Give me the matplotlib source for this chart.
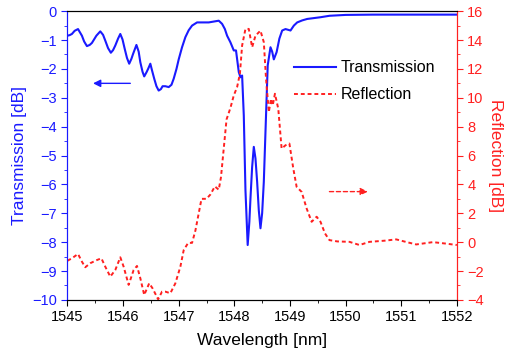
import numpy as np
import matplotlib.pyplot as plt
from matplotlib.ticker import MultipleLocator

plt.rcParams['font.family'] = ['Liberation Sans', 'DejaVu Sans']

# Transmission (left axis)
wl_t = [1545.00, 1545.04, 1545.08, 1545.13, 1545.19, 1545.26, 1545.30, 1545.35, 1545.40,
        1545.44, 1545.52, 1545.59, 1545.64, 1545.68, 1545.73, 1545.78, 1545.82, 1545.86,
        1545.91, 1545.95, 1545.99, 1546.03, 1546.07, 1546.11, 1546.15, 1546.18, 1546.24,
        1546.28, 1546.31, 1546.35, 1546.38, 1546.42, 1546.45, 1546.49, 1546.52, 1546.56,
        1546.60, 1546.64, 1546.68, 1546.71, 1546.76, 1546.82, 1546.87, 1546.91, 1546.96,
        1547.00, 1547.06, 1547.12, 1547.18, 1547.24, 1547.33, 1547.44, 1547.54, 1547.63,
        1547.72, 1547.78, 1547.83, 1547.87, 1547.93, 1547.99, 1548.03, 1548.08, 1548.11,
        1548.14, 1548.17, 1548.20, 1548.24, 1548.27, 1548.29, 1548.32, 1548.35, 1548.38,
        1548.41, 1548.44, 1548.47, 1548.50, 1548.53, 1548.57, 1548.60, 1548.65, 1548.68,
        1548.71, 1548.76, 1548.81, 1548.86, 1548.92, 1549.01, 1549.07, 1549.13, 1549.22,
        1549.31, 1549.55, 1549.71, 1550.00, 1550.50, 1551.00, 1551.50, 1552.00]
trans = [-0.85, -0.83, -0.79, -0.68, -0.62, -0.85, -1.05, -1.21, -1.17,
         -1.10, -0.85, -0.70, -0.82, -1.02, -1.28, -1.44, -1.35, -1.19,
         -0.95, -0.79, -0.98, -1.31, -1.62, -1.82, -1.65, -1.48, -1.17,
         -1.40, -1.77, -2.10, -2.26, -2.12, -2.00, -1.82, -2.05, -2.34,
         -2.60, -2.75, -2.70, -2.60, -2.60, -2.63, -2.55, -2.34, -2.00,
         -1.67, -1.25, -0.90, -0.66, -0.50, -0.39, -0.39, -0.39, -0.36,
         -0.33, -0.44, -0.62, -0.85, -1.08, -1.36, -1.36, -2.11, -2.29,
         -2.23, -3.61, -6.20, -8.10, -7.30, -6.49, -5.40, -4.70, -5.10,
         -5.91, -6.90, -7.52, -7.00, -5.91, -3.60, -1.88, -1.25, -1.40,
         -1.67, -1.42, -0.95, -0.67, -0.62, -0.67, -0.50, -0.39, -0.32,
         -0.27, -0.21, -0.16, -0.13, -0.12, -0.12, -0.12, -0.12]

# Reflection (right axis)
wl_r = [1545.00, 1545.08, 1545.19, 1545.26, 1545.32, 1545.41, 1545.53, 1545.61, 1545.68,
        1545.77, 1545.86, 1545.95, 1546.01, 1546.10, 1546.19, 1546.25, 1546.31, 1546.38,
        1546.47, 1546.53, 1546.63, 1546.70, 1546.76, 1546.85, 1546.94, 1547.03, 1547.09,
        1547.17, 1547.24, 1547.30, 1547.36, 1547.41, 1547.50, 1547.57, 1547.65, 1547.72,
        1547.76, 1547.80, 1547.86, 1547.93, 1547.99, 1548.05, 1548.10, 1548.14, 1548.20,
        1548.26, 1548.32, 1548.38, 1548.47, 1548.53, 1548.57, 1548.62, 1548.66, 1548.69,
        1548.73, 1548.79, 1548.85, 1548.92, 1548.99, 1549.06, 1549.12, 1549.21, 1549.30,
        1549.39, 1549.48, 1549.55, 1549.63, 1549.71, 1549.85, 1550.07, 1550.25, 1550.43,
        1550.70, 1550.91, 1551.10, 1551.27, 1551.57, 1551.80, 1552.00]
refl = [-1.29, -1.12, -0.82, -1.35, -1.74, -1.46, -1.24, -1.12, -1.70,
        -2.39, -1.93, -1.05, -1.70, -2.96, -1.93, -1.65, -2.50, -3.66,
        -2.85, -3.20, -3.96, -3.43, -3.43, -3.54, -2.85, -1.70, -0.55,
        -0.05, -0.05, 0.80, 2.00, 3.00, 3.00, 3.30, 3.86, 3.63,
        4.50, 6.10, 8.50, 9.30, 10.16, 10.74, 11.66, 13.62, 14.77,
        14.77, 13.50, 14.30, 14.65, 13.85, 11.32, 9.01, 9.93, 9.47,
        10.28, 9.24, 6.48, 6.71, 6.83, 5.10, 3.83, 3.48, 2.33,
        1.41, 1.76, 1.40, 0.60, 0.14, 0.05, 0.02, -0.20, 0.02,
        0.10, 0.19, 0.00, -0.16, 0.00, -0.10, -0.20]

blue = '#1a1aff'
red = '#ff2020'

fig, ax = plt.subplots(figsize=(5.11, 3.6), dpi=100)
fig.subplots_adjust(left=0.132, right=0.894, bottom=0.167, top=0.969)
ax2 = ax.twinx()

l1, = ax.plot(wl_t, trans, color=blue, lw=1.5, label='Transmission')
l2, = ax2.plot(wl_r, refl, color=red, lw=1.4, linestyle=(0, (2, 1.5)), label='Reflection')

ax.set_xlim(1545, 1552)
ax.set_ylim(-10, 0)
ax2.set_ylim(-4, 16)

ax.xaxis.set_major_locator(MultipleLocator(1))
ax.xaxis.set_minor_locator(MultipleLocator(0.5))
ax.yaxis.set_major_locator(MultipleLocator(1))
ax.yaxis.set_minor_locator(MultipleLocator(0.5))
ax2.yaxis.set_major_locator(MultipleLocator(2))
ax2.yaxis.set_minor_locator(MultipleLocator(1))

ax.tick_params(axis='x', which='both', direction='out', labelsize=10.5, colors='black')
ax.tick_params(axis='x', which='major', length=4)
ax.tick_params(axis='x', which='minor', length=2.5)
ax.tick_params(axis='y', which='both', direction='out', labelsize=10.5, colors=blue)
ax.tick_params(axis='y', which='major', length=4)
ax.tick_params(axis='y', which='minor', length=2.5)
ax2.tick_params(axis='y', which='both', direction='out', labelsize=10.5, colors=red)
ax2.tick_params(axis='y', which='major', length=4)
ax2.tick_params(axis='y', which='minor', length=2.5)

ax2.spines['left'].set_color(blue)
ax2.spines['right'].set_color(red)
ax.spines['left'].set_color(blue)
ax.spines['right'].set_color(red)

ax.set_xlabel('Wavelength [nm]', fontsize=12.5, labelpad=6)
ax.set_ylabel('Transmission [dB]', fontsize=12.5, color=blue, labelpad=4)
ax2.set_ylabel('Reflection [dB]', fontsize=12.5, color=red, rotation=270, labelpad=14)

# arrows pointing to each axis
ax.annotate('', xy=(1545.41, -2.5), xytext=(1546.18, -2.5),
            arrowprops=dict(arrowstyle='-|>', color=blue, lw=1.0, mutation_scale=11))
ax2.annotate('', xy=(1550.45, 3.5), xytext=(1549.66, 3.5),
             arrowprops=dict(arrowstyle='-|>', color=red, lw=1.0, linestyle=(0, (3, 2)),
                             mutation_scale=11))

ax2.legend([l1, l2], ['Transmission', 'Reflection'], loc='upper left',
           bbox_to_anchor=(0.545, 0.88), frameon=False, fontsize=11.5,
           handlelength=2.6, handletextpad=0.3, labelspacing=0.75)

plt.savefig('out.png', dpi=100)
